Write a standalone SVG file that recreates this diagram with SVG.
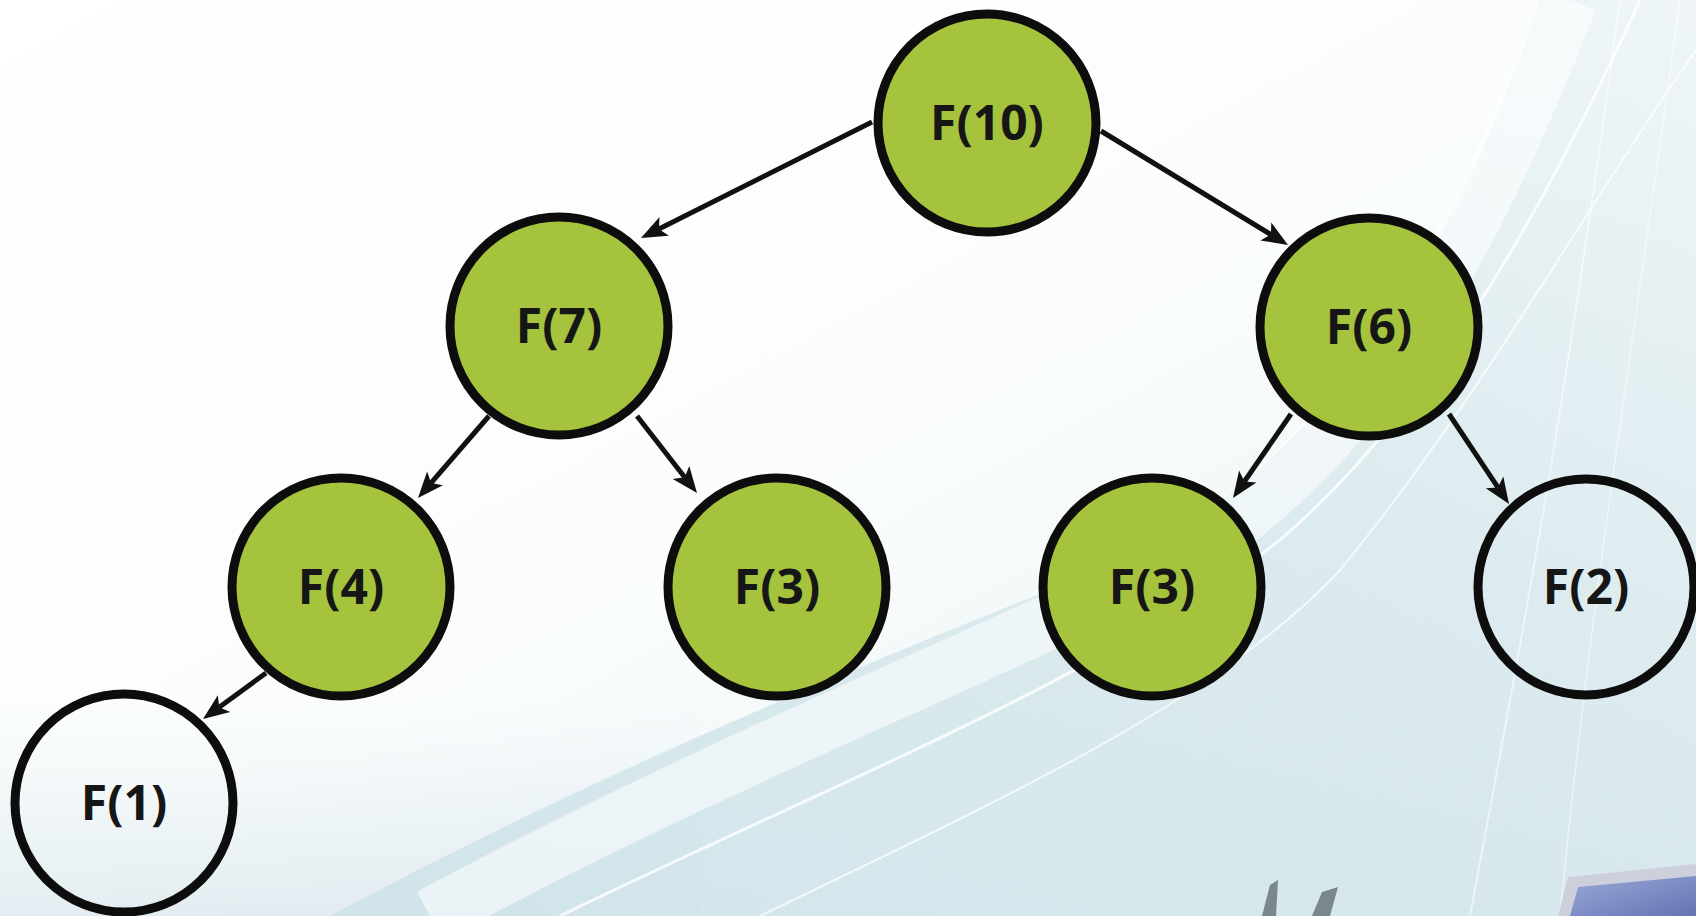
<svg xmlns="http://www.w3.org/2000/svg" width="1696" height="916" viewBox="0 0 1696 916">
  <defs>
    <linearGradient id="bg" x1="0" y1="0" x2="1" y2="1">
      <stop offset="0" stop-color="#ffffff"/>
      <stop offset="0.5" stop-color="#fbfdfd"/>
      <stop offset="1" stop-color="#dfecf0"/>
    </linearGradient>
    <linearGradient id="bottomfade" x1="0" y1="0" x2="0" y2="1">
      <stop offset="0" stop-color="#e4eef2" stop-opacity="0"/>
      <stop offset="1" stop-color="#dde9ee" stop-opacity="1"/>
    </linearGradient>
    <linearGradient id="swoosh" x1="0" y1="1" x2="1" y2="0">
      <stop offset="0" stop-color="#cde2e9"/>
      <stop offset="0.55" stop-color="#d7e8ed"/>
      <stop offset="1" stop-color="#edf4f6"/>
    </linearGradient>
    <linearGradient id="screen" x1="0" y1="0" x2="1" y2="1">
      <stop offset="0" stop-color="#9aa8d6"/>
      <stop offset="1" stop-color="#6474b4"/>
    </linearGradient>
    <style>
      .node circle { stroke: #0d0d0d; stroke-width: 9; }
      .green { fill: #a5c33c; }
      .white { fill: none; }
      .node text { font-family: "Open Sans", "Noto Sans", sans-serif; font-weight: 700; font-size: 48px; fill: #161616; text-anchor: middle; }
      .edge line { stroke: #111; stroke-width: 5; fill: none; }
      .edge polygon { fill: #111; stroke: none; }
    </style>
  </defs>

  <!-- background -->
  <rect width="1696" height="916" fill="url(#bg)"/>
  <rect y="700" width="700" height="216" fill="url(#bottomfade)" opacity="0.8"/>
  <path d="M330,916 C620,760 900,650 1100,570 C1300,480 1440,300 1540,0 L1696,0 L1696,916 Z" fill="url(#swoosh)" opacity="0.85"/>
  <path d="M430,916 C720,760 980,660 1180,560 C1360,450 1470,260 1570,0" fill="none" stroke="#ffffff" stroke-width="55" opacity="0.55"/>
  <path d="M560,916 C840,780 1100,680 1280,540 C1430,410 1540,220 1640,0" fill="none" stroke="#ffffff" stroke-width="3" opacity="0.8"/>
  <path d="M760,916 C1000,800 1220,700 1340,570 C1480,400 1590,200 1696,50" fill="none" stroke="#ffffff" stroke-width="2" opacity="0.7"/>
  <path d="M1470,916 C1510,700 1560,450 1620,0" fill="none" stroke="#ffffff" stroke-width="2" opacity="0.55"/>
  <path d="M1560,916 C1590,600 1640,300 1680,0" fill="none" stroke="#ffffff" stroke-width="1.5" opacity="0.5"/>
  <!-- decorative objects bottom right -->
  <path d="M1262,916 L1270,885 L1278,880 L1276,916 Z" fill="#7a878b"/>
  <path d="M1312,916 L1322,892 L1338,887 L1330,916 Z" fill="#7a878b"/>
  <path d="M1558,916 L1568,877 L1696,864 L1696,916 Z" fill="#cdd0dc"/>
  <path d="M1570,916 L1578,887 L1696,876 L1696,916 Z" fill="url(#screen)"/>

  <g id="connectors">
    <g class="edge" id="e-f10-f7"><line x1="872" y1="122" x2="658.9" y2="229"/><polygon points="641,238 659.5,216.9 658.9,229 668.9,235.7"/></g>
    <g class="edge" id="e-f10-f6"><line x1="1101" y1="131" x2="1270.9" y2="234.6"/><polygon points="1288,245 1260.3,240.4 1270.9,234.6 1271.3,222.5"/></g>
    <g class="edge" id="e-f7-f4"><line x1="489" y1="416" x2="431.1" y2="482.9"/><polygon points="418,498 427.1,471.5 431.1,482.9 442.9,485.2"/></g>
    <g class="edge" id="e-f7-f3"><line x1="637" y1="416" x2="684.7" y2="477.2"/><polygon points="697,493 672.7,478.9 684.7,477.2 689.3,466"/></g>
    <g class="edge" id="e-f6-f3"><line x1="1291" y1="414" x2="1244.4" y2="481.5"/><polygon points="1233,498 1239.1,470.6 1244.4,481.5 1256.4,482.6"/></g>
    <g class="edge" id="e-f6-f2"><line x1="1449" y1="414" x2="1497.9" y2="487.4"/><polygon points="1509,504 1485.8,488.2 1497.9,487.4 1503.3,476.6"/></g>
    <g class="edge" id="e-f4-f1"><line x1="266" y1="673" x2="219.2" y2="707.2"/><polygon points="203,719 217.8,695.2 219.2,707.2 230.2,712.1"/></g>
  </g>

  <g id="node-f10" class="node"><circle class="green" cx="987" cy="123" r="109"/><text x="987" y="140">F(10)</text></g>
  <g id="node-f7" class="node"><circle class="green" cx="559" cy="326" r="109"/><text x="559" y="343">F(7)</text></g>
  <g id="node-f6" class="node"><circle class="green" cx="1369" cy="327" r="109"/><text x="1369" y="344">F(6)</text></g>
  <g id="node-f4" class="node"><circle class="green" cx="341" cy="587" r="109"/><text x="341" y="604">F(4)</text></g>
  <g id="node-f3a" class="node"><circle class="green" cx="777" cy="587" r="109"/><text x="777" y="604">F(3)</text></g>
  <g id="node-f3b" class="node"><circle class="green" cx="1152" cy="587" r="109"/><text x="1152" y="604">F(3)</text></g>
  <g id="node-f2" class="node"><circle class="white" cx="1586" cy="587" r="108"/><text x="1586" y="604">F(2)</text></g>
  <g id="node-f1" class="node"><circle class="white" cx="124" cy="803" r="109"/><text x="124" y="820">F(1)</text></g>
</svg>
